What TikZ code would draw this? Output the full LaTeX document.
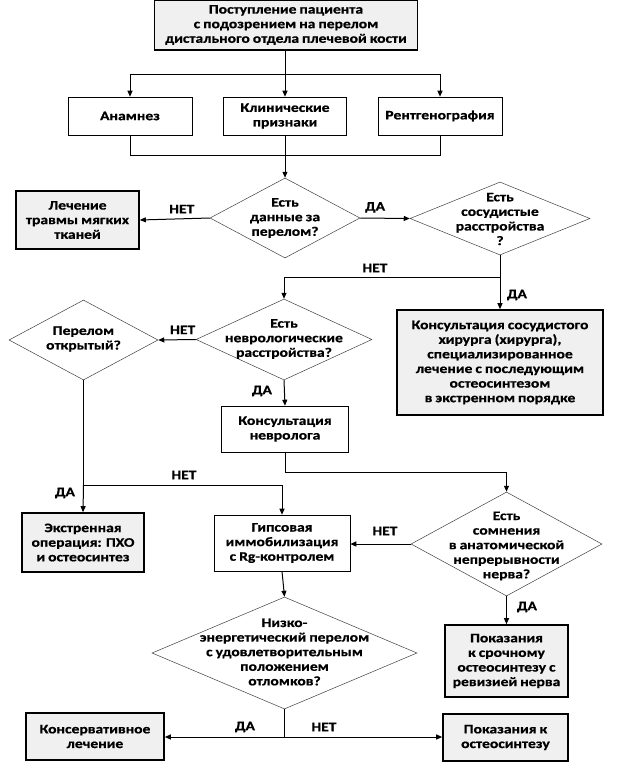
\documentclass[tikz,border=0pt]{standalone}
\usepackage{fontspec}
\setmainfont{Carlito}[FakeStretch=1.2,WordSpace=0.85,BoldFeatures={FakeBold=0.7}]
\usetikzlibrary{shapes.geometric,arrows.meta,calc}
\begin{document}
\begin{tikzpicture}[x=1pt,y=-1pt,
  base/.style={align=center,font=\bfseries\fontsize{13}{14.6}\selectfont,inner sep=0pt},
  wbox/.style={base,draw,line width=0.6pt,fill=white},
  gbox/.style={base,draw,line width=1.6pt,fill=gray!12},
  dia/.style={diamond,draw=black!75,line width=0.5pt,inner sep=0pt,fill=white},
  txt/.style={base},
  lbl/.style={base},
  ln/.style={line width=1pt},
  arr/.style={line width=1pt,-{Triangle[length=6pt,width=5pt]}}]
\useasboundingbox (0,0) rectangle (617,763);
% nodes
\node[gbox,minimum width=263pt,minimum height=50pt] (start) at (286,25)
  {Поступление пациента\\с подозрением на перелом\\дистального отдела плечевой кости};
\node[wbox,minimum width=124pt,minimum height=38pt] (anam) at (130,116) {Анамнез};
\node[wbox,minimum width=123pt,minimum height=38pt] (klin) at (285,116) {Клинические\\признаки};
\node[wbox,minimum width=124pt,minimum height=38pt] (rent) at (440,116) {Рентгенография};
\node[dia,minimum width=150pt,minimum height=80pt] (d1) at (285,218) {};
\node[txt] (d1t) at (285,218) {Есть\\данные за\\перелом?};
\node[gbox,minimum width=123pt,minimum height=58pt] (lech) at (77.5,220) {Лечение\\травмы мягких\\тканей};
\node[dia,minimum width=180pt,minimum height=73pt] (d2) at (500,218.5) {};
\node[txt] (d2t) at (500,219) {Есть\\сосудистые\\расстройства\\?};
\node[dia,minimum width=176pt,minimum height=81pt] (d3) at (284,339.5) {};
\node[txt] (d3t) at (284,339) {Есть\\неврологические\\расстройства?};
\node[dia,minimum width=149pt,minimum height=80pt] (d4) at (83.5,340) {};
\node[txt] (d4t) at (83.5,339) {Перелом\\открытый?};
\node[gbox,minimum width=206pt,minimum height=105pt] (ks) at (500,362.5)
  {Консультация сосудистого\\хирурга (хирурга),\\специализированное\\лечение с последующим\\остеосинтезом\\в экстренном порядке};
\node[wbox,minimum width=127pt,minimum height=46pt] (kn) at (285,429) {Консультация\\невролога};
\node[gbox,minimum width=122pt,minimum height=59pt] (ek) at (83,542.5) {Экстренная\\операция: ПХО\\и остеосинтез};
\node[wbox,minimum width=136pt,minimum height=56pt] (gips) at (282,543) {Гипсовая\\иммобилизация\\с Rg-контролем};
\node[dia,minimum width=191pt,minimum height=104pt] (d5) at (506.5,544) {};
\node[txt] (d5t) at (506.5,546) {Есть\\сомнения\\в анатомической\\непрерывности\\нерва?};
\node[gbox,minimum width=123pt,minimum height=72pt] (p1) at (506.5,661) {Показания\\к срочному\\остеосинтезу с\\ревизией нерва};
\node[dia,minimum width=265pt,minimum height=112pt] (d6) at (284.5,653) {};
\node[txt] (d6t) at (284.5,652) {Низко-\\энергетический перелом\\с удовлетворительным\\положением\\отломков?};
\node[gbox,minimum width=138pt,minimum height=47pt] (kl) at (95,736.5) {Консервативное\\лечение};
\node[gbox,minimum width=125pt,minimum height=47pt] (p2) at (505.5,737.5) {Показания к\\остеосинтезу};
% connectors
\coordinate (j1) at (285,74);
\draw[ln] (start.south -| j1) -- (j1);
\draw[arr] (j1) -| (anam.north);
\draw[arr] (j1) -| (rent.north);
\draw[arr] (j1) -- (klin.north);
\coordinate (j2) at (285,155);
\draw[ln] (anam.south) |- (j2);
\draw[ln] (rent.south) |- (j2);
\draw[ln] (klin.south) -- (j2);
\draw[arr] (j2) -- (d1.north);
\draw[arr] (d1.west) -- (lech.east) node[lbl,pos=0.4,above=5pt] (l1) {НЕТ};
\draw[arr] (d1.east) -- (d2.west) node[lbl,pos=0.3,above=5pt] (l2) {ДА};
\coordinate (j3) at (500,277);
\draw[ln] (d2.south) -- (j3);
\draw[arr] (j3) -| (d3.north);
\node[lbl] (l3) at (375,268) {НЕТ};
\draw[arr] (j3) -- (ks.north);
\node[lbl] (l4) at (517,295) {ДА};
\draw[arr] (d3.west) -- (d4.east) node[lbl,pos=0.35,above=5pt] (l5) {НЕТ};
\draw[arr] (d3.south) -- (kn.north);
\node[lbl] (l6) at (262,391) {ДА};
\coordinate (j5) at (285,472);
\draw[arr] (kn.south) -- (j5) -| (d5.north);
\coordinate (j4) at (83.5,485);
\draw[ln] (d4.south) -- (j4);
\draw[arr] (j4) -- (ek.north);
\draw[arr] (j4) -| (gips.north);
\node[lbl] (l7) at (184,475) {НЕТ};
\node[lbl] (l8) at (65,493) {ДА};
\draw[arr] (d5.west) -- (d5.west -| gips.east);
\node[lbl] (l9) at (385,531) {НЕТ};
\draw[arr] (d5.south) -- (p1.north);
\node[lbl] (l10) at (527,607) {ДА};
\draw[arr] (gips.south) -- (d6.north);
\coordinate (j6) at (284.5,737);
\draw[ln] (d6.south) -- (j6);
\draw[arr] (j6) -- (j6 -| kl.east);
\draw[arr] (j6) -- (j6 -| p2.west);
\node[lbl] (l11) at (245,727) {ДА};
\node[lbl] (l12) at (324,727) {НЕТ};
\end{tikzpicture}
\end{document}
